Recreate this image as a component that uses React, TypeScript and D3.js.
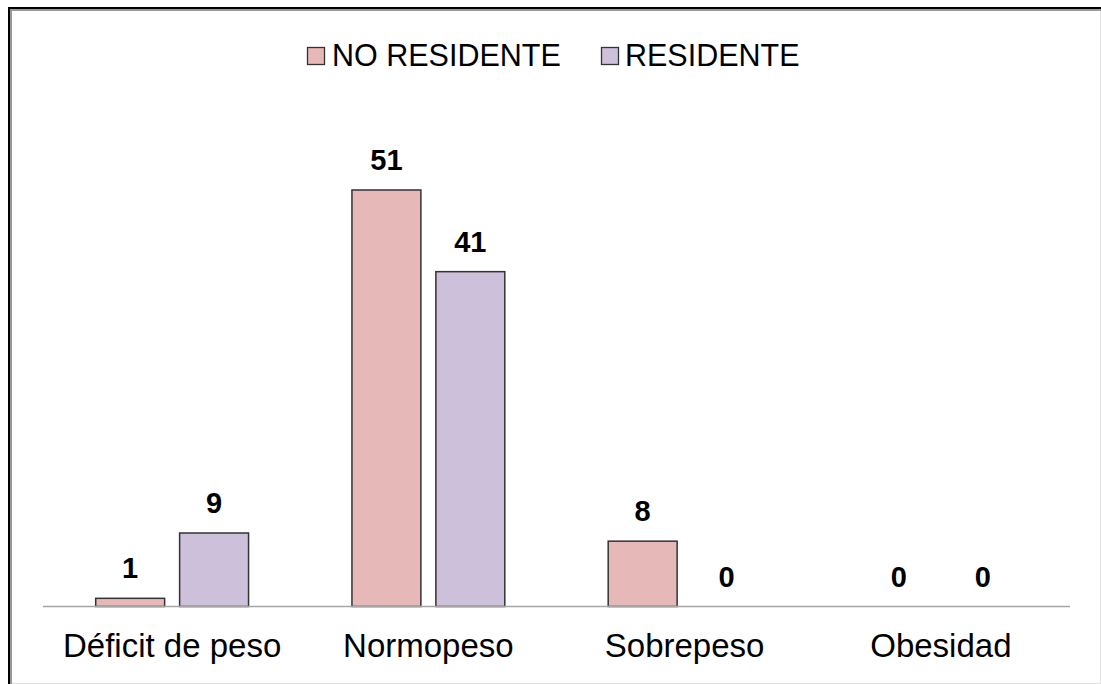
import React from "react";
import * as d3 from "d3";

const categories = ["Déficit de peso", "Normopeso", "Sobrepeso", "Obesidad"];
const seriesNames = ["NO RESIDENTE", "RESIDENTE"];
const noResidente = [1, 51, 8, 0];
const residente = [9, 41, 0, 0];
const seriesColors = ["#E6B8B7", "#CCC0DA"];

const W = 1101;
const H = 684;
const FONT = "'Liberation Sans', Arial, Helvetica, sans-serif";

export default function App() {
  const series = [noResidente, residente];
  const x0 = d3.scaleBand<string>().domain(categories).range([44, 1069]).padding(0);
  const x1 = d3
    .scaleBand<string>()
    .domain(seriesNames)
    .range([0, x0.bandwidth()])
    .paddingInner(0.1786)
    .paddingOuter(0.616);
  const y = d3.scaleLinear().domain([0, 60]).range([606.5, 116.5]);

  const legendItems = [
    { name: seriesNames[0], sx: 307, tx: 332 },
    { name: seriesNames[1], sx: 601, tx: 625 },
  ];

  return (
    <svg
      width={W}
      height={H}
      style={{ position: "absolute", left: 0, top: 0, background: "#fff" }}
      fontFamily={FONT}
    >
      <rect x={0} y={0} width={W} height={H} fill="#fff" />
      {/* frame */}
      <line x1={1100.5} y1={8} x2={1100.5} y2={684} stroke="#e0e0e0" strokeWidth={1} />
      <line x1={9} y1={683.5} x2={1101} y2={683.5} stroke="#e0e0e0" strokeWidth={1} />
      <line x1={11} y1={10} x2={11} y2={684} stroke="#999" strokeWidth={2} />
      <line x1={10} y1={10} x2={1101} y2={10} stroke="#999" strokeWidth={2} />
      <line x1={9} y1={7} x2={9} y2={684} stroke="#000" strokeWidth={2} />
      <line x1={8} y1={8} x2={1101} y2={8} stroke="#000" strokeWidth={2} />

      {/* legend */}
      {legendItems.map((it, i) => (
        <g key={it.name}>
          <rect
            x={it.sx + 0.5}
            y={47.5}
            width={17}
            height={17}
            fill={seriesColors[i]}
            stroke="#333"
            strokeWidth={1.3}
          />
          <text x={it.tx} y={66} fontSize={30.5} fill="#000">
            {it.name}
          </text>
        </g>
      ))}

      {/* bars */}
      {categories.map((c, ci) => (
        <g key={c} transform={`translate(${x0(c)},0)`}>
          {seriesNames.map((s, si) => {
            const v = series[si][ci];
            const bx = x1(s)!;
            const bw = x1.bandwidth();
            return (
              <g key={s}>
                {v > 0 && (
                  <rect
                    x={bx}
                    y={y(v)}
                    width={bw}
                    height={y(0) - y(v)}
                    fill={seriesColors[si]}
                    stroke="#333"
                    strokeWidth={1.5}
                  />
                )}
                <text
                  x={bx + bw / 2}
                  y={y(v) - 20}
                  textAnchor="middle"
                  fontSize={29}
                  fontWeight="bold"
                  fill="#000"
                >
                  {v}
                </text>
              </g>
            );
          })}
        </g>
      ))}

      {/* axis line */}
      <line x1={43} y1={606.5} x2={1070} y2={606.5} stroke="#a6a6a6" strokeWidth={1.5} />

      {/* category labels */}
      {categories.map((c) => (
        <text
          key={c}
          x={x0(c)! + x0.bandwidth() / 2}
          y={657}
          textAnchor="middle"
          fontSize={33}
          fill="#000"
        >
          {c}
        </text>
      ))}
    </svg>
  );
}
